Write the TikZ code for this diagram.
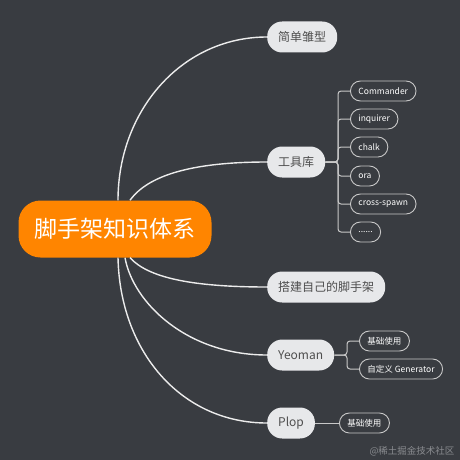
\documentclass[tikz,border=0pt]{standalone}
\usepackage{fontspec}
\setmainfont{Noto Sans CJK SC}
\definecolor{bggray}{HTML}{393C41}
\definecolor{rootorange}{HTML}{FF8500}
\definecolor{topicgray}{HTML}{E7E8EA}
\definecolor{topictext}{HTML}{4E4E4E}
\definecolor{linewhite}{HTML}{ECECEC}
\definecolor{subline}{HTML}{C8C8C8}
\definecolor{markgray}{HTML}{8A8C90}
\begin{document}
\begin{tikzpicture}[x=1pt,y=-1pt,
	rootbox/.style={rectangle, rounded corners=22pt, fill=rootorange, text=white, font=\fontsize{23}{26}\selectfont, minimum height=57pt, inner xsep=16pt},
	topicbox/.style={rectangle, rounded corners=15pt, fill=topicgray, text=topictext, font=\fontsize{12}{14}\selectfont, minimum height=31pt, inner xsep=11pt, anchor=west},
	subbox/.style={rectangle, rounded corners=10pt, draw=subline, line width=0.9pt, text=white, font=\fontsize{8.5}{10}\selectfont, minimum height=20pt, inner xsep=8pt, anchor=west},
	branch/.style={draw=linewhite, line width=1.4pt},
	twig/.style={draw=subline, line width=1pt, rounded corners=3pt}]
		% background
		\fill[bggray] (0,0) rectangle (460,460);
		\useasboundingbox (0,0) rectangle (460,460);
		% root node
		\node[rootbox] (root) at (115,229) {脚手架知识体系};
		\coordinate (rootN) at ([xshift=3pt]root.north);
		\coordinate (rootNE) at ([xshift=15pt]root.north);
		\coordinate (rootS1) at ([xshift=15pt]root.south);
		\coordinate (rootS2) at ([xshift=10pt]root.south);
		\coordinate (rootS3) at ([xshift=3pt]root.south);
		% topic nodes
		\node[topicbox] (simple) at (267,37) {简单雏型};
		\node[topicbox] (tools) at (267,162) {工具库};
		\node[topicbox] (build) at (267,287) {搭建自己的脚手架};
		\node[topicbox] (yeoman) at (267,355) {Yeoman};
		\node[topicbox] (plop) at (267,423) {Plop};
		% root to topic connections
		\draw[branch] (rootN) .. controls +(0,-90) and +(-85,0) .. (simple.west);
		\draw[branch] (rootNE) .. controls +(18,-25) and +(-75,0) .. (tools.west);
		\draw[branch] (rootS1) .. controls +(18,20) and +(-75,0) .. (build.west);
		\draw[branch] (rootS2) .. controls +(8,45) and +(-80,0) .. (yeoman.west);
		\draw[branch] (rootS3) .. controls +(2,95) and +(-85,0) .. (plop.west);
		% tool nodes
		\node[subbox] (cmd) at (350,91) {Commander};
		\node[subbox] (inq) at (350,119) {inquirer};
		\node[subbox] (chalk) at (350,147) {chalk};
		\node[subbox] (ora) at (350,176) {ora};
		\node[subbox] (cross) at (350,204) {cross-spawn};
		\node[subbox] (dots) at (350,232) {......};
		% tool connections
		\coordinate (toolsJ) at (338,162);
		\foreach \n in {cmd,inq,chalk,ora,cross,dots}
			\draw[twig] (tools) -- (toolsJ) |- (\n);
		% yeoman nodes
		\node[subbox] (ybasic) at (359,341) {基础使用};
		\node[subbox] (ygen) at (359,369) {自定义 Generator};
		% yeoman connections
		\coordinate (yeomanJ) at (347,355);
		\foreach \n in {ybasic,ygen}
			\draw[twig] (yeoman) -- (yeomanJ) |- (\n);
		% plop nodes
		\node[subbox] (pbasic) at (339,423) {基础使用};
		% plop connections
		\draw[twig] (plop) -- (pbasic);
		% watermark
		\node[text=markgray, font=\fontsize{9.5}{11}\selectfont] (mark) at (412,451) {@稀土掘金技术社区};
	\end{tikzpicture}
\end{document}
